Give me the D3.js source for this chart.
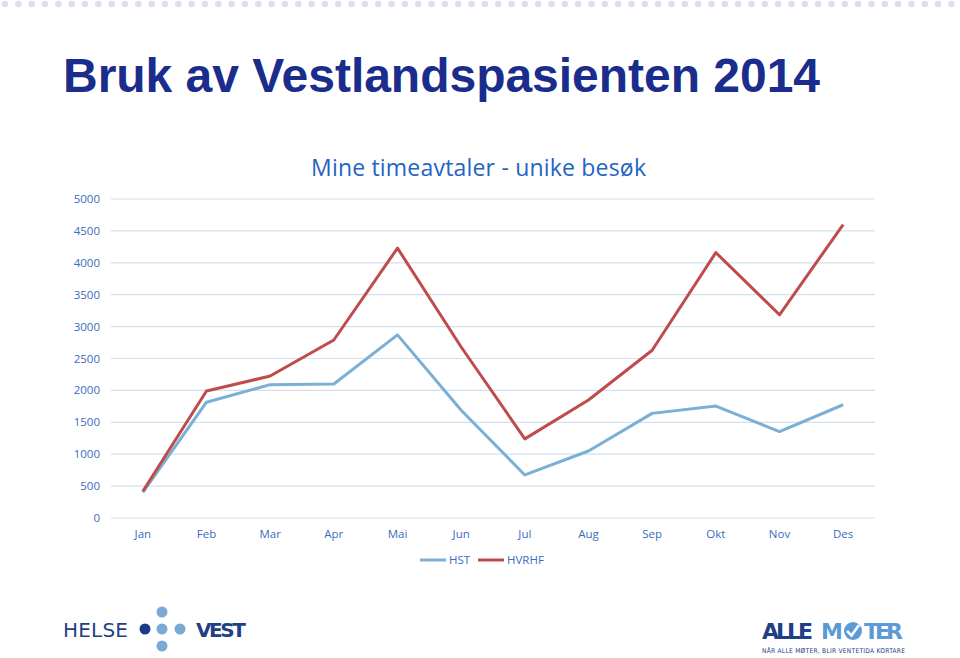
<!DOCTYPE html>
<html>
<head>
<meta charset="utf-8">
<script src="https://cdn.jsdelivr.net/npm/d3@7"></script>
<style>
  body { margin: 0; background: #fff; }
  svg { display: block; }
</style>
</head>
<body>
<div id="app"></div>
<script>
// data
const months = ['Jan', 'Feb', 'Mar', 'Apr', 'Mai', 'Jun', 'Jul', 'Aug', 'Sep', 'Okt', 'Nov', 'Des'];
const hst = [400, 1815, 2090, 2100, 2870, 1690, 675, 1050, 1640, 1755, 1355, 1775];
const hvrhf = [420, 1990, 2225, 2790, 4230, 2680, 1240, 1850, 2630, 4160, 3185, 4600];
const yTicks = [0, 500, 1000, 1500, 2000, 2500, 3000, 3500, 4000, 4500, 5000];

const W = 960, H = 658;
const svg = d3.select('#app').append('svg').attr('width', W).attr('height', H);

// dotted strip at the top
svg.append('g').selectAll('circle')
  .data(d3.range(0, 72))
  .enter().append('circle')
  .attr('cx', d => 5 + d * 13.33)
  .attr('cy', 4)
  .attr('r', 3.3)
  .attr('fill', '#dcdfed');

// page title
svg.append('text')
  .attr('x', 63).attr('y', 92)
  .attr('fill', '#1a2c8c')
  .attr('font-family', 'Liberation Sans, Arial, sans-serif')
  .attr('font-weight', 700)
  .attr('font-size', '48px')
  .attr('textLength', 757)
  .text('Bruk av Vestlandspasienten 2014');

// chart title
svg.append('text')
  .attr('x', 311).attr('y', 176)
  .attr('fill', '#2563c4')
  .attr('font-family', 'Open Sans, sans-serif')
  .attr('font-size', '23px')
  .attr('textLength', 335)
  .text('Mine timeavtaler - unike besøk');

const x = d3.scaleBand().domain(months).range([111, 875]);
const y = d3.scaleLinear().domain([0, 5000]).range([518, 199]);

// grid
svg.append('g').selectAll('line')
  .data(yTicks)
  .enter().append('line')
  .attr('x1', 111).attr('x2', 875)
  .attr('y1', d => y(d)).attr('y2', d => y(d))
  .attr('stroke', '#d3e0f0')
  .attr('stroke-width', 1.2);

const tickFont = 'Open Sans, sans-serif';
svg.append('g').selectAll('text')
  .data(yTicks)
  .enter().append('text')
  .attr('x', 100).attr('y', d => y(d) + 4)
  .attr('text-anchor', 'end')
  .attr('fill', '#3a6cc0')
  .attr('font-family', tickFont)
  .attr('font-size', '11.5px')
  .text(d => d);

svg.append('g').selectAll('text')
  .data(months)
  .enter().append('text')
  .attr('x', d => x(d) + x.bandwidth() / 2)
  .attr('y', 538)
  .attr('text-anchor', 'middle')
  .attr('fill', '#3a6cc0')
  .attr('font-family', tickFont)
  .attr('font-size', '11.5px')
  .text(d => d);

const line = d3.line()
  .x((d, i) => x(months[i]) + x.bandwidth() / 2)
  .y(d => y(d));

const series = [
  { name: 'HST', values: hst, color: '#7aafd6' },
  { name: 'HVRHF', values: hvrhf, color: '#bf4b4b' }
];

series.forEach(s => {
  svg.append('path')
    .datum(s.values)
    .attr('d', line)
    .attr('fill', 'none')
    .attr('stroke', s.color)
    .attr('stroke-width', 3)
    .attr('stroke-linejoin', 'round');
});

// legend
const legend = svg.append('g');
[[420, 0], [478, 1]].forEach(([lx, i]) => {
  legend.append('line')
    .attr('x1', lx).attr('x2', lx + 26)
    .attr('y1', 560).attr('y2', 560)
    .attr('stroke', series[i].color)
    .attr('stroke-width', 3);
  legend.append('text')
    .attr('x', lx + 29).attr('y', 564)
    .attr('fill', '#3a6cc0')
    .attr('font-family', tickFont)
    .attr('font-size', '11.5px')
    .text(series[i].name);
});

// Helse Vest logo
const hv = svg.append('g');
hv.append('text')
  .attr('x', 63).attr('y', 637)
  .attr('fill', '#1f3f86')
  .attr('font-family', 'DejaVu Sans, sans-serif')
  .attr('font-size', '20px')
  .attr('textLength', 65)
  .text('HELSE');
hv.append('circle').attr('cx', 145).attr('cy', 629).attr('r', 5.5).attr('fill', '#1c3a8c');
[[162, 629], [180, 629], [162, 612], [162, 646]].forEach(([cx, cy]) => {
  hv.append('circle').attr('cx', cx).attr('cy', cy).attr('r', 5.5).attr('fill', '#7ba9d6');
});
hv.append('text')
  .attr('x', 196).attr('y', 637)
  .attr('fill', '#1f3f86')
  .attr('font-family', 'DejaVu Sans, sans-serif')
  .attr('font-weight', 700)
  .attr('font-size', '20px')
  .attr('textLength', 50)
  .text('VEST');

// Alle Møter logo
const am = svg.append('g')
  .attr('font-family', 'DejaVu Sans, sans-serif')
  .attr('font-weight', 700)
  .attr('font-size', '22px');
am.append('text').attr('x', 762).attr('y', 639).attr('fill', '#1f3f86')
  .attr('textLength', 51).text('ALLE');
am.append('text').attr('x', 821).attr('y', 639).attr('fill', '#5a9ad6')
  .attr('textLength', 21).text('M');
am.append('circle').attr('cx', 853).attr('cy', 631).attr('r', 9).attr('fill', '#5a9ad6');
am.append('path')
  .attr('d', 'M847,631 L851.5,635.5 L859,625')
  .attr('fill', 'none')
  .attr('stroke', '#fff')
  .attr('stroke-width', 2.6);
am.append('text').attr('x', 864).attr('y', 639).attr('fill', '#5a9ad6')
  .attr('textLength', 39).text('TER');
svg.append('text')
  .attr('x', 762).attr('y', 653)
  .attr('fill', '#1f3f86')
  .attr('font-family', 'DejaVu Sans Condensed, sans-serif')
  .attr('font-size', '6.6px')
  .attr('textLength', 143)
  .text('NÅR ALLE MØTER, BLIR VENTETIDA KORTARE');
</script>
</body>
</html>
